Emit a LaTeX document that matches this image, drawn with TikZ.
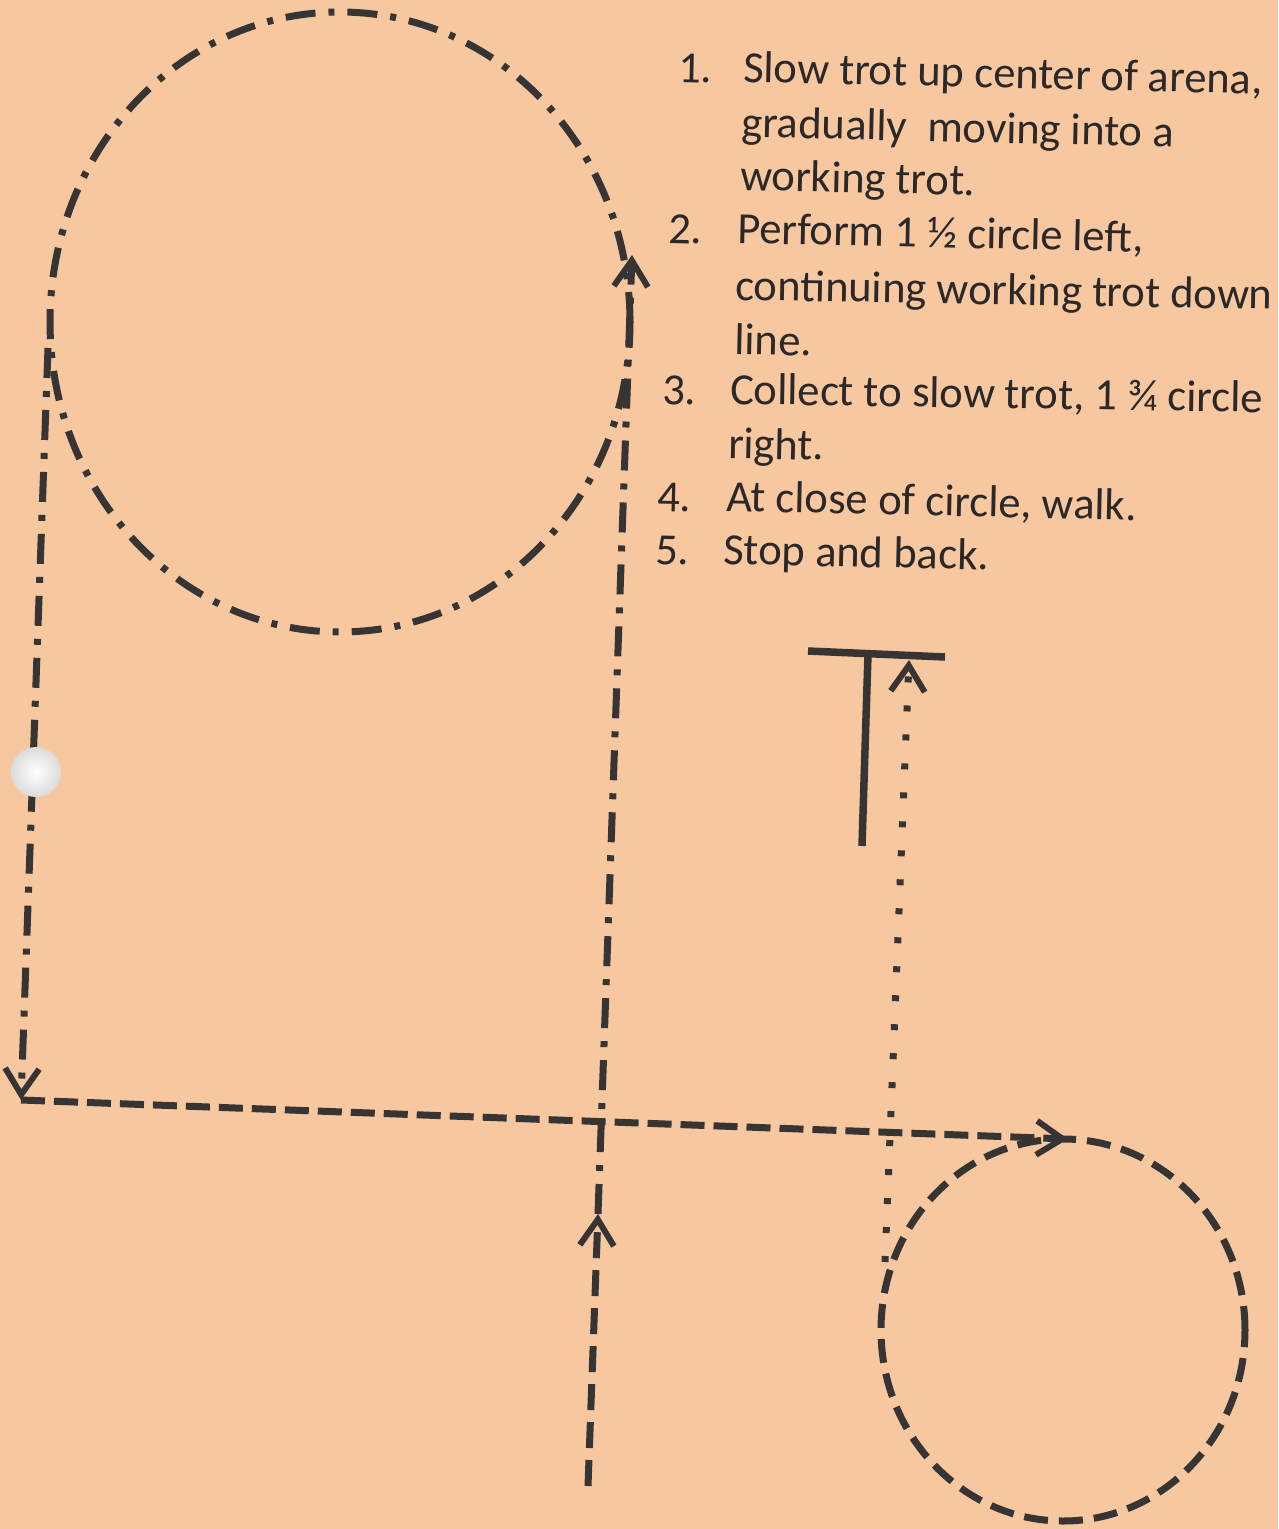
\documentclass[tikz,border=0pt]{standalone}
\usepackage{fontspec}
\setmainfont{Carlito}
\usetikzlibrary{arrows.meta}
\definecolor{paper}{RGB}{247,199,160}
\definecolor{ink}{RGB}{55,53,52}
\definecolor{txt}{RGB}{42,40,40}
\begin{document}
\begin{tikzpicture}[x=1pt,y=-1pt,
  path/.style={draw=ink,line width=7pt},
  dashdot/.style={path,dash pattern=on 30pt off 13pt on 6pt off 13pt},
  dashline/.style={path,dash pattern=on 24pt off 9pt},
  dotline/.style={path,dash pattern=on 6pt off 23pt},
  chev/.style={-{Straight Barb[length=26pt,width=34pt,line width=6pt]}},
  txtline/.style={anchor=base west,inner sep=0pt,text=txt,rotate=-1.3,
    font=\fontsize{44.6}{54}\selectfont}]
\fill[paper] (0,0) rectangle (1278,1529);
\useasboundingbox (0,0) rectangle (1278,1529);

% coordinates
\coordinate (bigL) at (48,348);
\coordinate (cornerL) at (21,1100);
\coordinate (smallTop) at (1068,1139);
\coordinate (cbot) at (588,1486);
\coordinate (cmid) at (598,1214);
\coordinate (ctop) at (632,255);
\coordinate (dotBot) at (885,1262);
\coordinate (dotTop) at (909,660);
\coordinate (tbarL) at (808,651);
\coordinate (tbarR) at (945,657);
\coordinate (tstemTop) at (868,654);
\coordinate (tstemBot) at (862,846);

% big circle
\draw[dashdot] (340,322) ellipse [x radius=290pt, y radius=310pt];
% small circle
\draw[dashline,dash pattern=on 24pt off 11pt] (1063,1330) ellipse [x radius=182pt, y radius=191pt];

% left line down, then across
\draw[dashdot,chev] (bigL) -- (cornerL);
\draw[dashline,chev] (cornerL) -- (smallTop);

% centre line
\draw[dashline,dash pattern=on 26pt off 12pt,chev] (cbot) -- (cmid);
\draw[dashdot,chev] (cmid) -- (ctop);

% dotted line
\draw[dotline,chev] (dotBot) -- (dotTop);

% T
\draw[draw=ink,line width=7.5pt] (tbarL) -- (tbarR);
\draw[draw=ink,line width=7.5pt] (tstemTop) -- (tstemBot);

% punch hole
\shade[inner color=white,outer color=white!86!black] (36,772) circle [radius=25pt];
\node[circle,minimum size=50pt,inner sep=0pt] (hole) at (36,772) {};

% text
\node[txtline] (n1) at (678,82) {1.};
\node[txtline] (l1) at (743,82) {Slow trot up center of arena,};
\node[txtline] (l2) at (741,137) {gradually\ \ moving into a};
\node[txtline] (l3) at (740,190) {working trot.};
\node[txtline] (n2) at (668,243) {2.};
\node[txtline] (l4) at (737,243) {Perform 1 ½ circle left,};
\node[txtline,rotate=0.3] (l5) at (735,300) {continuing working trot down};
\node[txtline] (l6) at (734,354) {line.};
\node[txtline] (n3) at (662,404) {3.};
\node[txtline,rotate=0.4] (l7) at (730,404) {Collect to slow trot, 1 ¾ circle};
\node[txtline] (l8) at (728,458) {right.};
\node[txtline] (n4) at (657,511) {4.};
\node[txtline] (l9) at (726,511) {At close of circle, walk.};
\node[txtline] (n5) at (655,564) {5.};
\node[txtline] (l10) at (723,564) {Stop and back.};
\end{tikzpicture}
\end{document}
